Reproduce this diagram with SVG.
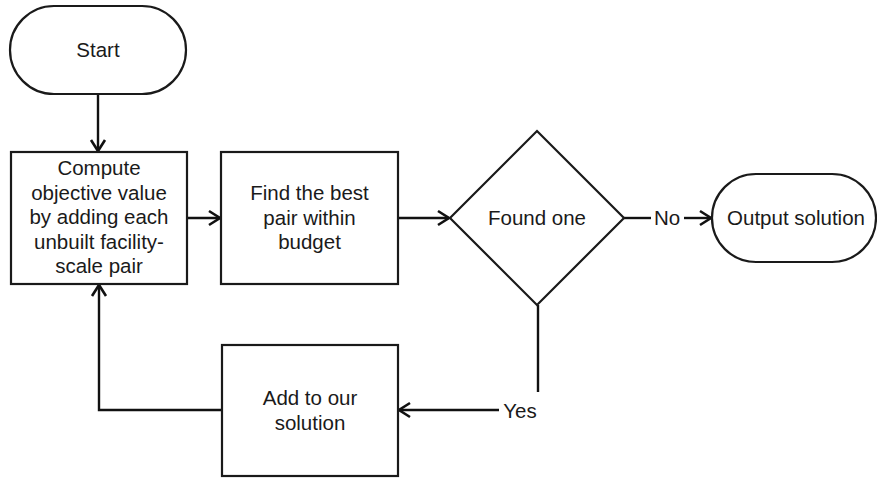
<svg xmlns="http://www.w3.org/2000/svg" width="877" height="481" viewBox="0 0 877 481">
  <style>
    .shape { fill: #ffffff; stroke: #1a1a1a; stroke-width: 2.2; }
    .edge { fill: none; stroke: #111111; stroke-width: 2.4; }
    .label { font-family: "Liberation Sans", Arial, sans-serif; font-size: 20.5px; fill: #1a1a1a; text-anchor: middle; }
  </style>
  <defs>
    <marker id="arrow" markerUnits="userSpaceOnUse" markerWidth="18" markerHeight="18" refX="15" refY="9" orient="auto">
      <path d="M4,2 L15,9 L4,16" fill="none" stroke="#111111" stroke-width="2.6" stroke-linejoin="miter"/>
    </marker>
  </defs>
  <rect width="877" height="481" fill="#ffffff"/>

  <g id="connectors">
    <path class="edge" d="M98,95 L98,151" marker-end="url(#arrow)"/>
    <path class="edge" d="M187,218 L220,218" marker-end="url(#arrow)"/>
    <path class="edge" d="M398,218 L449,218" marker-end="url(#arrow)"/>
    <path class="edge" d="M624,218 L651,218"/>
    <path class="edge" d="M684,218 L711,218" marker-end="url(#arrow)"/>
    <path class="edge" d="M538,305 L538,392"/>
    <path class="edge" d="M499,410 L399,410" marker-end="url(#arrow)"/>
    <path class="edge" d="M222,410 L99,410 L99,285" marker-end="url(#arrow)"/>
    <text class="label" x="667" y="225">No</text>
    <text class="label" x="520" y="418">Yes</text>
  </g>

  <g id="start">
    <rect class="shape" x="10" y="6" width="176" height="88" rx="44" ry="44"/>
    <text class="label" x="98" y="57">Start</text>
  </g>

  <g id="compute">
    <rect class="shape" x="11" y="152" width="176" height="132"/>
    <text class="label" x="99" y="175">Compute</text>
    <text class="label" x="99" y="199.5">objective value</text>
    <text class="label" x="99" y="224">by adding each</text>
    <text class="label" x="99" y="248.5">unbuilt facility-</text>
    <text class="label" x="99" y="273">scale pair</text>
  </g>

  <g id="find">
    <rect class="shape" x="221" y="152" width="177" height="132"/>
    <text class="label" x="309.5" y="200">Find the best</text>
    <text class="label" x="309.5" y="224.5">pair within</text>
    <text class="label" x="309.5" y="249">budget</text>
  </g>

  <g id="found">
    <polygon class="shape" points="537,131 624,218 537,305 450,218"/>
    <text class="label" x="537" y="225">Found one</text>
  </g>

  <g id="output">
    <rect class="shape" x="712" y="174" width="164" height="88" rx="44" ry="44"/>
    <text class="label" x="796" y="225">Output solution</text>
  </g>

  <g id="add">
    <rect class="shape" x="222" y="345" width="176" height="131"/>
    <text class="label" x="310" y="405">Add to our</text>
    <text class="label" x="310" y="429.5">solution</text>
  </g>
</svg>
